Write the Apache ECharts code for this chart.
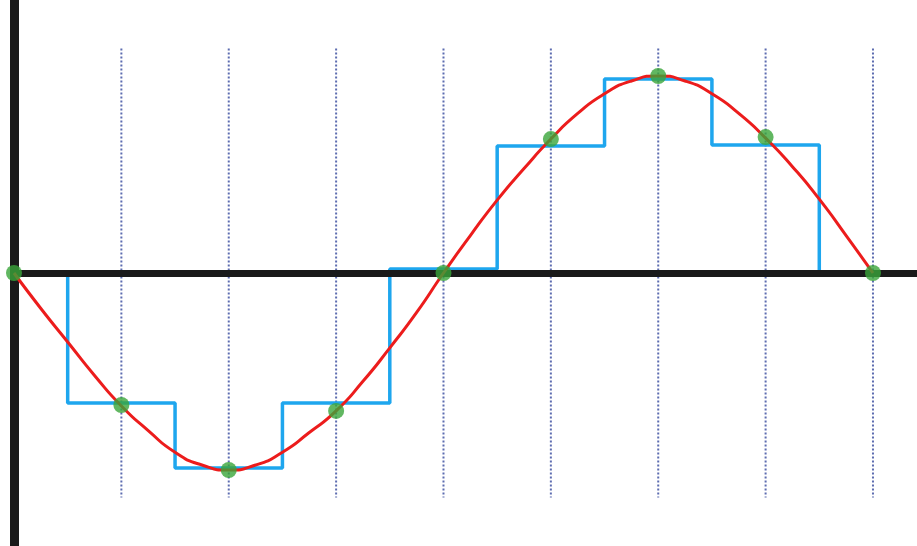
<!DOCTYPE html>
<html>
<head>
<meta charset="utf-8">
<script src="https://cdn.jsdelivr.net/npm/echarts@6/dist/echarts.min.js"></script>
<style>
html,body{margin:0;padding:0;background:#fff;}
#c{width:917px;height:546px;}
</style>
</head>
<body>
<div id="c"></div>
<script>
// sample positions
var sampleX = [0, 1, 2, 3, 4, 5, 6, 7, 8];
// sampled values (green dots)
var sampleY = [0, -0.67, -1.0, -0.70, 0, 0.68, 1.0, 0.69, 0];
// held (stair-step) levels, blue
var holdY = [0, -0.66, -0.99, -0.66, 0.02, 0.645, 0.985, 0.65, 0];
// red continuous signal, every quarter step
var curveX = [0, 0.25, 0.5, 0.75, 1, 1.25, 1.5, 1.75, 2, 2.25, 2.5, 2.75, 3, 3.25, 3.5, 3.75,
              4, 4.25, 4.5, 4.75, 5, 5.25, 5.5, 5.75, 6, 6.25, 6.5, 6.75, 7, 7.25, 7.5, 7.75, 8];
var curveY = [0, -0.18, -0.35, -0.52, -0.675, -0.80, -0.91, -0.975, -1.0, -0.975, -0.91, -0.81, -0.70, -0.55, -0.38, -0.20,
              0, 0.19, 0.37, 0.53, 0.68, 0.81, 0.91, 0.975, 1.0, 0.975, 0.91, 0.81, 0.685, 0.54, 0.375, 0.19, 0];
// vertical guide extents
var guideTop = 1.14;
var guideBottom = -1.14;
var guideX = [1, 2, 3, 4, 5, 6, 7, 8];

var guideData = [];
guideX.forEach(function (x) {
  guideData.push([x, guideTop]);
  guideData.push([x, guideBottom]);
  guideData.push([x, '-']);
});

var chart = echarts.init(document.getElementById('c'), null, {renderer: 'canvas'});
chart.setOption({
  animation: false,
  backgroundColor: '#ffffff',
  grid: {left: 14, right: 0, top: 0, bottom: 0},
  xAxis: {
    type: 'value', min: 0, max: 8.41,
    z: 2.5,
    axisLine: {show: true, onZero: true, lineStyle: {color: '#1a1a1a', width: 7}},
    axisTick: {show: false}, axisLabel: {show: false}, splitLine: {show: false}
  },
  yAxis: {
    type: 'value', min: -1.386, max: 1.386,
    z: 2.6,
    axisLine: {show: true, lineStyle: {color: '#1a1a1a', width: 9}},
    axisTick: {show: false}, axisLabel: {show: false}, splitLine: {show: false}
  },
  series: [
    {
      type: 'line', z: 1, data: guideData, connectNulls: false,
      showSymbol: false, symbol: 'none',
      lineStyle: {color: '#5d6cb0', width: 2, type: [2, 2]}
    },
    {
      type: 'line', z: 2, step: 'middle',
      data: sampleX.map(function (x, i) { return [x, holdY[i]]; }),
      showSymbol: false, symbol: 'none',
      lineStyle: {color: '#1ea6ee', width: 3.5}
    },
    {
      type: 'line', z: 3, smooth: 0.6,
      data: curveX.map(function (x, i) { return [x, curveY[i]]; }),
      showSymbol: false, symbol: 'none',
      lineStyle: {color: '#ec1c1c', width: 3}
    },
    {
      type: 'scatter', z: 4,
      data: sampleX.map(function (x, i) { return [x, sampleY[i]]; }),
      symbolSize: 16,
      itemStyle: {color: '#3aa53a'}
    }
  ]
});
</script>
</body>
</html>
